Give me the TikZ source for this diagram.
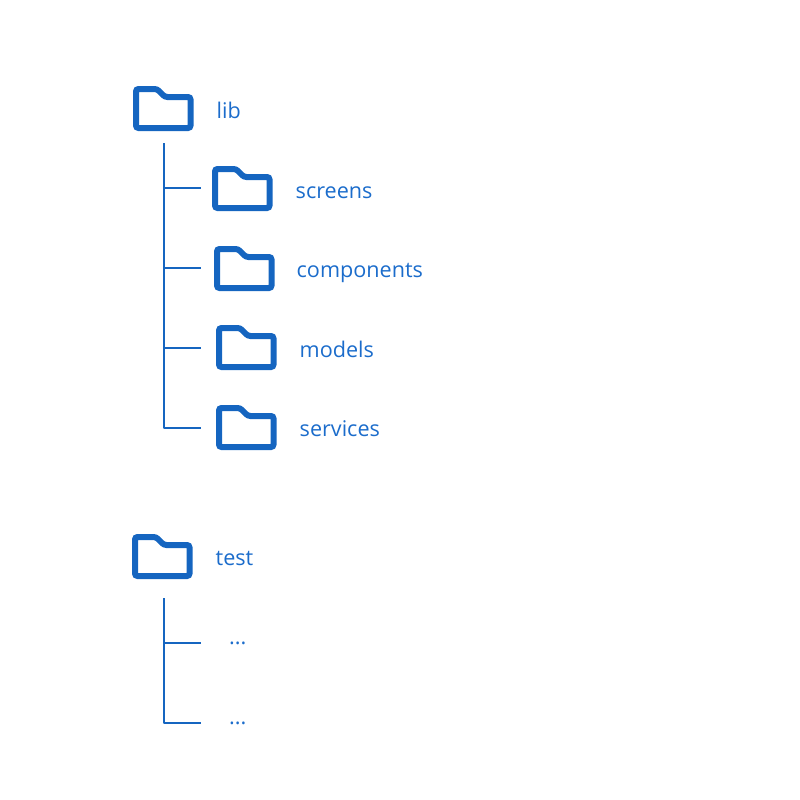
\documentclass[tikz,border=0pt]{standalone}
\usepackage{fontspec}
\setmainfont{Open Sans}
\definecolor{folderblue}{HTML}{1565C0}
\definecolor{labelblue}{HTML}{1B6CCB}
\tikzset{
  label/.style={anchor=base west, inner sep=0pt, text=labelblue, font=\fontsize{21.6}{25}\selectfont},
  branch/.style={draw=folderblue, line width=2pt, line join=round},
  folder/.pic={
    \draw[folderblue, line width=6pt, rounded corners=2.5pt]
      (0,0)--(21,0)--(29,8)--(54.5,8)--(54.5,39)--(0,39)--cycle;
  }
}
\begin{document}
\begin{tikzpicture}[x=1pt, y=-1pt]
\useasboundingbox (0,0) rectangle (800,800);
\pic at (136,89) {folder};
\node[label] (lib) at (216.5,118) {lib};
\pic at (215,169) {folder};
\node[label] (screens) at (295.5,198) {screens};
\pic at (217,249) {folder};
\node[label] (components) at (296.5,277.5) {components};
\pic at (219,328) {folder};
\node[label] (models) at (299.5,357) {models};
\pic at (219,408) {folder};
\node[label] (services) at (299.5,436) {services};
\pic at (135,537) {folder};
\node[label] (test) at (215.5,565) {test};
\node[label] (dotsa) at (229,644) {...};
\node[label] (dotsb) at (229,724) {...};

\coordinate (libtop) at (163.5,143);
\coordinate (libend) at (163.5,428);
\coordinate (testtop) at (163.5,598);
\coordinate (testend) at (163.5,723);
\draw[branch] (libtop)--(libend)--(201,428);
\draw[branch] (163.5,188)--(201,188);
\draw[branch] (163.5,268)--(201,268);
\draw[branch] (163.5,348)--(201,348);
\draw[branch] (testtop)--(testend)--(201,723);
\draw[branch] (163.5,643)--(201,643);
\end{tikzpicture}
\end{document}
